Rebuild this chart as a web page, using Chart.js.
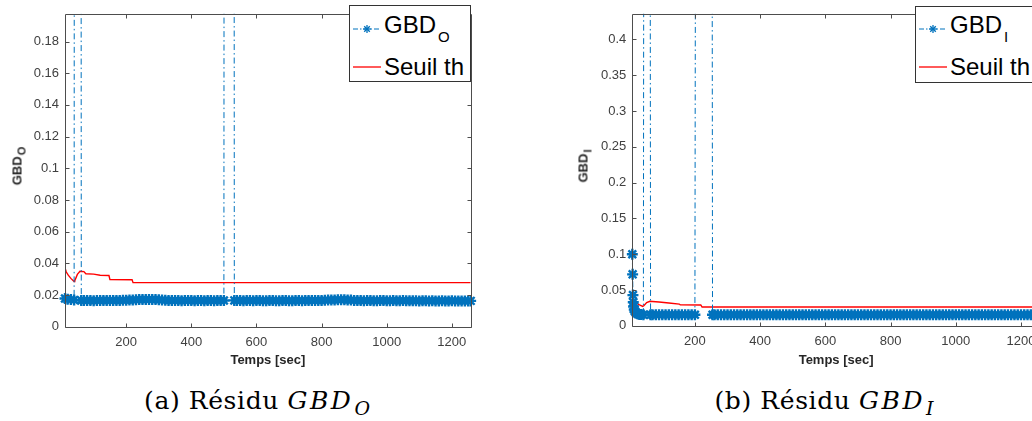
<!DOCTYPE html>
<html>
<head>
<meta charset="utf-8">
<script src="https://cdn.jsdelivr.net/npm/chart.js@4"></script>
<style>
html, body { margin: 0; padding: 0; width: 1032px; height: 421px; overflow: hidden; background: #fff; }
canvas { position: absolute; top: 0; }
#chartO { left: 0; }
#chartI { left: 567px; }
.ylab { position: absolute; font: bold 13px "Liberation Sans", Arial, sans-serif; color: #262626; transform: translate(-50%, -50%) rotate(-90deg); white-space: nowrap; }
.ylab .sub { font-size: 11px; position: relative; top: 4px; margin-left: 1px; }
.lgbox { position: absolute; box-sizing: border-box; width: 122px; height: 77px; border: 1px solid #333; background: #fff; }
.lgline { position: absolute; }
.lgtext { position: absolute; font: 24px "Liberation Sans", Arial, sans-serif; line-height: 24px; color: #000; white-space: nowrap; }
.lgtext .sub { font-size: 15px; position: relative; top: 9px; margin-left: 2px; }
.caption { position: absolute; top: 386px; transform: translateX(-50%); font: 25px "DejaVu Serif", serif; line-height: 30px; color: #000; white-space: nowrap; letter-spacing: 0.6px; }
.caption .m { font-style: italic; letter-spacing: 2.5px; }
.caption .sub { font-style: italic; font-size: 19px; position: relative; top: 6px; margin-left: 1px; letter-spacing: 2px; }
</style>
</head>
<body>
<canvas id="chartO" width="490" height="380"></canvas>
<canvas id="chartI" width="490" height="380"></canvas>

<div class="ylab" style="left:17px; top:166px;">GBD<span class="sub">O</span></div>
<div class="ylab" style="left:583px; top:166px;">GBD<span class="sub">I</span></div>

<div class="lgbox" style="left:349px; top:5px;"></div>
<svg class="lgline" style="left:353px; top:24px;" width="28" height="10"><line x1="0" y1="5" x2="28" y2="5" stroke="#0072BD" stroke-width="1" stroke-dasharray="5 2 1.5 2"/><g stroke="#0072BD" stroke-width="1.3"><line x1="10" y1="5" x2="18" y2="5"/><line x1="14" y1="1" x2="14" y2="9"/><line x1="11.2" y1="2.2" x2="16.8" y2="7.8"/><line x1="11.2" y1="7.8" x2="16.8" y2="2.2"/></g></svg>
<div class="lgtext" style="left:384px; top:13px;">GBD<span class="sub">O</span></div>
<svg class="lgline" style="left:353px; top:62px;" width="28" height="10"><line x1="0" y1="5" x2="28" y2="5" stroke="#FF0000" stroke-width="1.3"/></svg>
<div class="lgtext" style="left:384px; top:55px;">Seuil th</div>

<div class="lgbox" style="left:915px; top:6px;"></div>
<svg class="lgline" style="left:919px; top:24px;" width="28" height="10"><line x1="0" y1="5" x2="28" y2="5" stroke="#0072BD" stroke-width="1" stroke-dasharray="5 2 1.5 2"/><g stroke="#0072BD" stroke-width="1.3"><line x1="10" y1="5" x2="18" y2="5"/><line x1="14" y1="1" x2="14" y2="9"/><line x1="11.2" y1="2.2" x2="16.8" y2="7.8"/><line x1="11.2" y1="7.8" x2="16.8" y2="2.2"/></g></svg>
<div class="lgtext" style="left:950px; top:13px;">GBD<span class="sub">I</span></div>
<svg class="lgline" style="left:919px; top:62px;" width="28" height="10"><line x1="0" y1="5" x2="28" y2="5" stroke="#FF0000" stroke-width="1.3"/></svg>
<div class="lgtext" style="left:950px; top:55px;">Seuil th</div>

<div class="caption" style="left:258px;">(a) Résidu <span class="m">GBD</span><span class="sub">O</span></div>
<div class="caption" style="left:825px;">(b) Résidu <span class="m">GBD</span><span class="sub">I</span></div>

<script>
// Tick values and labels
const xTicks = [200, 400, 600, 800, 1000, 1200];
const xTickLabels = ["200", "400", "600", "800", "1000", "1200"];
const yTicksO = [0, 0.02, 0.04, 0.06, 0.08, 0.1, 0.12, 0.14, 0.16, 0.18];
const yTickLabelsO = ["0", "0.02", "0.04", "0.06", "0.08", "0.1", "0.12", "0.14", "0.16", "0.18"];
const yTicksI = [0, 0.05, 0.1, 0.15, 0.2, 0.25, 0.3, 0.35, 0.4];
const yTickLabelsI = ["0", "0.05", "0.1", "0.15", "0.2", "0.25", "0.3", "0.35", "0.4"];

// (a) residual GBD_O, time [sec] and value (1 = off the plot)
const timeO = [
  12, 20, 30, 40, 42, 50, 60, 62, 70, 80,
  90, 100, 110, 120, 130, 140, 150, 160, 170, 180,
  190, 200, 210, 220, 230, 240, 250, 260, 270, 280,
  290, 300, 310, 320, 330, 340, 350, 360, 370, 380,
  390, 400, 410, 420, 430, 440, 450, 460, 470, 480,
  490, 500, 502, 516, 530, 532, 540, 550, 560, 570,
  580, 590, 600, 610, 620, 630, 640, 650, 660, 670,
  680, 690, 700, 710, 720, 730, 740, 750, 760, 770,
  780, 790, 800, 810, 820, 830, 840, 850, 860, 870,
  880, 890, 900, 910, 920, 930, 940, 950, 960, 970,
  980, 990, 1000, 1010, 1020, 1030, 1040, 1050, 1060, 1070,
  1080, 1090, 1100, 1110, 1120, 1130, 1140, 1150, 1160, 1170,
  1180, 1190, 1200, 1210, 1220, 1230, 1240, 1250, 1258
];
const gbdO = [
  0.0178, 0.0174, 0.0171, 0.0168, 1, 1, 1, 0.0166, 0.0165, 0.0166,
  0.0165, 0.0164, 0.0165, 0.0166, 0.0165, 0.0165, 0.0166, 0.0165, 0.0166, 0.0166,
  0.0167, 0.0167, 0.0168, 0.0169, 0.0170, 0.0171, 0.0172, 0.0172, 0.0172, 0.0171,
  0.0171, 0.0170, 0.0169, 0.0167, 0.0166, 0.0165, 0.0165, 0.0165, 0.0164, 0.0165,
  0.0165, 0.0165, 0.0164, 0.0165, 0.0165, 0.0164, 0.0165, 0.0165, 0.0164, 0.0165,
  0.0165, 0.0165, 1, 1, 1, 0.0166, 0.0165, 0.0165, 0.0164, 0.0165,
  0.0165, 0.0164, 0.0165, 0.0165, 0.0164, 0.0164, 0.0165, 0.0165, 0.0164, 0.0164,
  0.0165, 0.0165, 0.0164, 0.0164, 0.0165, 0.0165, 0.0164, 0.0165, 0.0165, 0.0165,
  0.0165, 0.0166, 0.0166, 0.0167, 0.0168, 0.0168, 0.0169, 0.0170, 0.0170, 0.0170,
  0.0169, 0.0168, 0.0166, 0.0165, 0.0165, 0.0164, 0.0165, 0.0165, 0.0164, 0.0164,
  0.0165, 0.0165, 0.0164, 0.0164, 0.0165, 0.0164, 0.0164, 0.0165, 0.0164, 0.0164,
  0.0164, 0.0164, 0.0163, 0.0164, 0.0164, 0.0163, 0.0164, 0.0163, 0.0163, 0.0164,
  0.0163, 0.0163, 0.0164, 0.0163, 0.0163, 0.0163, 0.0162, 0.0163, 0.0163
];
// (a) threshold
const timeThO = [12, 16, 22, 30, 40, 42, 50, 58, 70, 76, 100, 120, 147, 150, 218, 221, 1258];
const seuilO = [0.0370, 0.0345, 0.0325, 0.0305, 0.0285, 0.0290, 0.0330, 0.0350, 0.0348, 0.0334, 0.0332, 0.0325, 0.0323, 0.0297, 0.0296, 0.0278, 0.0278];

// (b) residual GBD_I
const timeI = [
  8, 9, 10, 11, 12, 14, 16, 20, 25, 30,
  35, 42, 44, 52, 62, 64, 70, 80, 90, 100,
  110, 120, 130, 140, 150, 160, 170, 180, 190, 200,
  203, 228, 252, 254, 260, 270, 280, 290, 300, 310,
  320, 330, 340, 350, 360, 370, 380, 390, 400, 410,
  420, 430, 440, 450, 460, 470, 480, 490, 500, 510,
  520, 530, 540, 550, 560, 570, 580, 590, 600, 610,
  620, 630, 640, 650, 660, 670, 680, 690, 700, 710,
  720, 730, 740, 750, 760, 770, 780, 790, 800, 810,
  820, 830, 840, 850, 860, 870, 880, 890, 900, 910,
  920, 930, 940, 950, 960, 970, 980, 990, 1000, 1010,
  1020, 1030, 1040, 1050, 1060, 1070, 1080, 1090, 1100, 1110,
  1120, 1130, 1140, 1150, 1160, 1170, 1180, 1190, 1200, 1210,
  1220, 1230, 1240, 1250, 1258
];
const gbdI = [
  0.100, 0.072, 0.043, 0.033, 0.027, 0.023, 0.020, 0.018, 0.0166, 0.0160,
  0.0158, 0.0156, 1, 1, 1, 0.0156, 0.0155, 0.0155, 0.0156, 0.0155,
  0.0155, 0.0156, 0.0155, 0.0155, 0.0156, 0.0155, 0.0155, 0.0156, 0.0155, 0.0155,
  1, 1, 1, 0.0156, 0.0156, 0.0155, 0.0155, 0.0156, 0.0155, 0.0155,
  0.0156, 0.0155, 0.0155, 0.0156, 0.0155, 0.0155, 0.0155, 0.0156, 0.0155, 0.0155,
  0.0156, 0.0155, 0.0155, 0.0155, 0.0156, 0.0155, 0.0155, 0.0156, 0.0155, 0.0155,
  0.0155, 0.0156, 0.0155, 0.0155, 0.0156, 0.0155, 0.0155, 0.0155, 0.0156, 0.0155,
  0.0155, 0.0156, 0.0155, 0.0155, 0.0155, 0.0156, 0.0155, 0.0155, 0.0156, 0.0155,
  0.0155, 0.0155, 0.0156, 0.0155, 0.0155, 0.0156, 0.0155, 0.0155, 0.0155, 0.0156,
  0.0155, 0.0155, 0.0156, 0.0155, 0.0155, 0.0155, 0.0156, 0.0155, 0.0155, 0.0156,
  0.0155, 0.0155, 0.0155, 0.0156, 0.0155, 0.0155, 0.0156, 0.0155, 0.0155, 0.0155,
  0.0156, 0.0155, 0.0155, 0.0156, 0.0155, 0.0155, 0.0155, 0.0156, 0.0155, 0.0155,
  0.0156, 0.0155, 0.0155, 0.0155, 0.0156, 0.0155, 0.0155, 0.0156, 0.0155, 0.0155,
  0.0155, 0.0156, 0.0155, 0.0155, 0.0155
];
// (b) threshold
const timeThI = [8, 12, 20, 30, 40, 44, 52, 62, 70, 90, 120, 152, 155, 218, 222, 1258];
const seuilI = [0.0376, 0.0350, 0.0320, 0.0295, 0.0272, 0.0285, 0.0325, 0.0343, 0.0340, 0.0333, 0.0320, 0.0305, 0.0295, 0.0292, 0.0263, 0.0263];

const blue = "#0072BD";
const red = "#FF0000";
const tickFont = { family: "Liberation Sans, Arial, sans-serif", size: 13 };

// box + inward ticks on all four sides, matlab style
const boxPlugin = {
    id: "box",
    afterDraw(chart) {
        const { ctx, chartArea: a, scales: { x, y } } = chart;
        const L = Math.round(a.left) + 0.5, R = Math.round(a.right) + 0.5;
        const T = Math.round(a.top) + 0.5, B = Math.round(a.bottom) + 0.5;
        ctx.save();
        ctx.strokeStyle = "#4d4d4d";
        ctx.lineWidth = 1;
        ctx.beginPath();
        x.ticks.forEach(t => {
            let px = Math.round(x.getPixelForValue(t.value)) + 0.5;
            ctx.moveTo(px, B); ctx.lineTo(px, B - 4);
            ctx.moveTo(px, T); ctx.lineTo(px, T + 4);
        });
        y.ticks.forEach(t => {
            let py = Math.round(y.getPixelForValue(t.value)) + 0.5;
            ctx.moveTo(L, py); ctx.lineTo(L + 4, py);
            ctx.moveTo(R, py); ctx.lineTo(R - 4, py);
        });
        ctx.rect(L, T, R - L, B - T);
        ctx.stroke();
        ctx.restore();
    }
};

function makeChart(id, times, values, thTimes, thValues, xMin, xMax, yMax, yTicks, yLabels, axisW, axisH, padRight) {
    let ctx = document.getElementById(id).getContext("2d");
    return new Chart(ctx, {
        type: "line",
        data: {
            datasets: [{
                data: times.map((t, i) => ({ x: t, y: values[i] })),
                borderColor: blue,
                borderWidth: 1,
                borderDash: [6, 3, 1.5, 3],
                pointStyle: "star",
                pointRadius: 5.5,
                pointBorderColor: blue,
                pointBorderWidth: 2.4,
                pointBackgroundColor: blue,
                tension: 0,
                clip: { left: 6, right: 6, top: 0, bottom: 6 }
            }, {
                data: thTimes.map((t, i) => ({ x: t, y: thValues[i] })),
                borderColor: red,
                borderWidth: 1.4,
                pointRadius: 0,
                tension: 0,
                clip: { left: 0, right: 0, top: 0, bottom: 0 }
            }]
        },
        options: {
            responsive: false,
            animation: false,
            events: [],
            layout: { padding: { top: 6, right: padRight, left: 0, bottom: 0 } },
            plugins: { legend: { display: false }, tooltip: { enabled: false } },
            scales: {
                x: {
                    type: "linear",
                    min: xMin,
                    max: xMax,
                    afterFit: s => { s.height = axisH; },
                    afterBuildTicks: s => { s.ticks = xTicks.map(v => ({ value: v })); },
                    grid: { display: false, drawTicks: false },
                    border: { display: false },
                    ticks: { font: tickFont, color: "#404040", padding: 8, maxRotation: 0, autoSkip: false,
                             callback: (v, i) => xTickLabels[i] },
                    title: { display: true, text: "Temps [sec]", color: "#262626",
                             font: { family: "Liberation Sans, Arial, sans-serif", size: 13, weight: "bold" },
                             padding: { top: 0, bottom: 12 } }
                },
                y: {
                    type: "linear",
                    min: 0,
                    max: yMax,
                    afterFit: s => { s.width = axisW; },
                    afterBuildTicks: s => { s.ticks = yTicks.map(v => ({ value: v })); },
                    grid: { display: false, drawTicks: false },
                    border: { display: false },
                    ticks: { font: tickFont, color: "#404040", padding: 6, autoSkip: false,
                             callback: (v, i) => yLabels[i] }
                }
            }
        },
        plugins: [boxPlugin]
    });
}

makeChart("chartO", timeO, gbdO, timeThO, seuilO, 12, 1258, 0.1975, yTicksO, yTickLabelsO, 65, 53.3, 19.3);
makeChart("chartI", timeI, gbdI, timeThI, seuilI, 8, 1258, 0.4358, yTicksI, yTickLabelsI, 65.3, 54.1, 17.1);
</script>
</body>
</html>
